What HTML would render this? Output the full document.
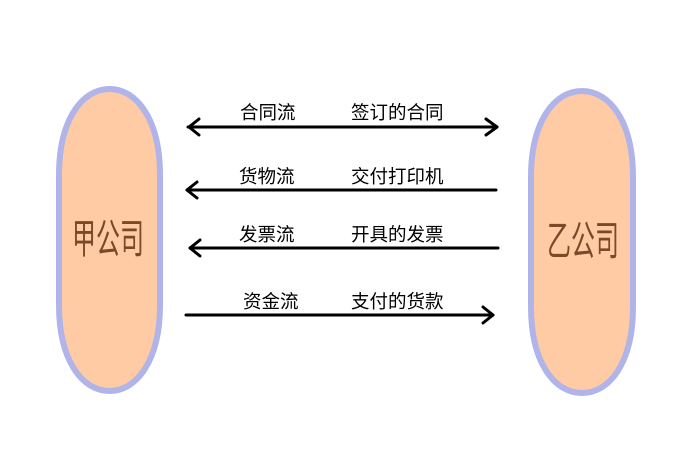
<!DOCTYPE html>
<html><head><meta charset="utf-8"><style>
body{margin:0;background:#fff;width:690px;height:471px;overflow:hidden;font-family:"Liberation Sans","Noto Sans CJK SC",sans-serif;}
</style></head><body>
<svg width="690" height="471" viewBox="0 0 690 471" xmlns="http://www.w3.org/2000/svg" font-family="Liberation Sans, Noto Sans CJK SC, sans-serif">
<path d="M59,175 C59,120 82,89 109.5,89 C137,89 160,120 160,175 L160,305 C160,360 137,391 109.5,391 C82,391 59,360 59,305 Z" fill="#ffcba4" stroke="#b0b4e8" stroke-width="6"/>
<path d="M531,177 C531,122 554,91 582,91 C610,91 633,122 633,177 L633,307 C633,362 610,393 582,393 C554,393 531,362 531,307 Z" fill="#ffcba4" stroke="#b0b4e8" stroke-width="6"/>
<text transform="translate(108,253) scale(1,1.7)" font-size="24" fill="#7a4a28" text-anchor="middle">甲公司</text>
<text transform="translate(583,255) scale(1,1.7)" font-size="24" fill="#7a4a28" text-anchor="middle">乙公司</text>
<g stroke="#000" stroke-width="3" fill="none" stroke-linecap="round" stroke-linejoin="round">
<line x1="188" y1="127" x2="497" y2="127"/>
<polyline points="199,119 189,127 199,135"/>
<polyline points="486,119 497,127 486,135"/>
<line x1="187" y1="190" x2="496" y2="190"/>
<polyline points="197,182 187,190 197,198"/>
<line x1="190" y1="248" x2="498" y2="248"/>
<polyline points="200,240 190,248 200,256"/>
<line x1="186" y1="315" x2="493" y2="315"/>
<polyline points="483,307 493,315 483,323"/>
</g>
<g font-size="18.5" fill="#000">
<text x="240" y="119">合同流</text><text x="351" y="119">签订的合同</text>
<text x="239" y="183">货物流</text><text x="351" y="183">交付打印机</text>
<text x="239" y="241">发票流</text><text x="351" y="241">开具的发票</text>
<text x="243" y="308">资金流</text><text x="351" y="308">支付的货款</text>
</g>
</svg>
</body></html>
